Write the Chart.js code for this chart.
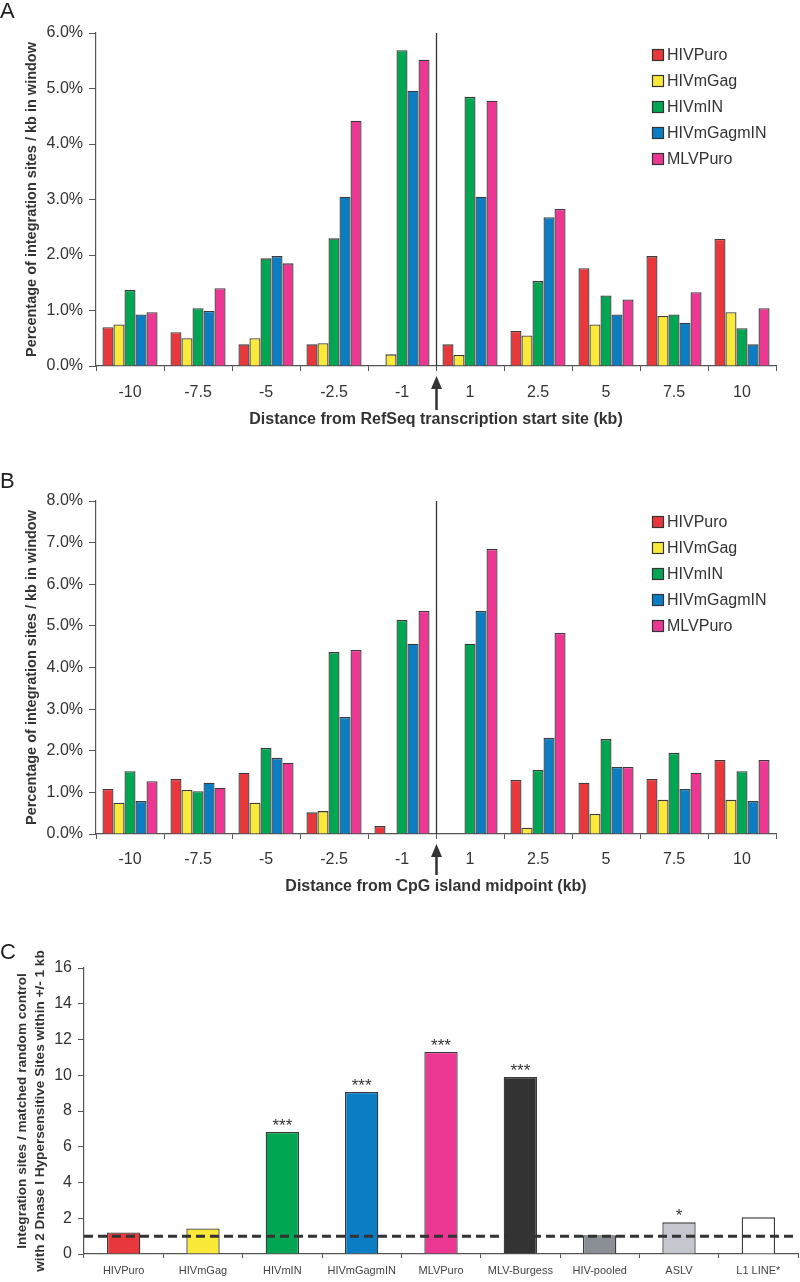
<!DOCTYPE html>
<html>
<head>
<meta charset="utf-8">
<script src="https://cdn.jsdelivr.net/npm/chart.js@4.4.1/dist/chart.umd.min.js"></script>
<style>
  body { margin: 0; background: #fff; }
  canvas { position: absolute; left: 0; }
</style>
</head>
<body>
<canvas id="panelA" width="800" height="430" style="top:0px"></canvas>
<canvas id="panelB" width="800" height="470" style="top:430px"></canvas>
<canvas id="panelC" width="800" height="382" style="top:900px"></canvas>
<script>
// categories
var distances = ['-10', '-7.5', '-5', '-2.5', '-1', '1', '2.5', '5', '7.5', '10'];
var vectors = ['HIVPuro', 'HIVmGag', 'HIVmIN', 'HIVmGagmIN', 'MLVPuro'];
var vectorColors = ['#e8383b', '#fbe93a', '#00a651', '#0b7dc5', '#ec3893'];

// panel A: % of integration sites / kb, around RefSeq TSS
var tssHIVPuro    = [0.70, 0.61, 0.39, 0.39, 0.00, 0.39, 0.63, 1.76, 1.98, 2.29];
var tssHIVmGag    = [0.75, 0.50, 0.50, 0.41, 0.21, 0.20, 0.55, 0.75, 0.90, 0.97];
var tssHIVmIN     = [1.37, 1.04, 1.94, 2.30, 5.69, 4.85, 1.53, 1.27, 0.93, 0.68];
var tssHIVmGagmIN = [0.93, 0.99, 1.98, 3.05, 4.96, 3.05, 2.68, 0.93, 0.78, 0.39];
var tssMLVPuro    = [0.97, 1.40, 1.85, 4.42, 5.52, 4.78, 2.83, 1.20, 1.33, 1.04];

// panel B: around CpG island midpoint
var cpgHIVPuro    = [1.08, 1.32, 1.47, 0.52, 0.19, 0.00, 1.30, 1.23, 1.32, 1.78];
var cpgHIVmGag    = [0.75, 1.06, 0.75, 0.55, 0.00, 0.00, 0.15, 0.48, 0.82, 0.82];
var cpgHIVmIN     = [1.51, 1.03, 2.07, 4.37, 5.14, 4.57, 1.54, 2.28, 1.95, 1.51];
var cpgHIVmGagmIN = [0.79, 1.23, 1.83, 2.81, 4.57, 5.36, 2.31, 1.61, 1.08, 0.79];
var cpgMLVPuro    = [1.27, 1.11, 1.71, 4.42, 5.36, 6.85, 4.83, 1.61, 1.47, 1.78];

// panel C: DNase I HS ratio vs random
var dnaseLabels = ['HIVPuro', 'HIVmGag', 'HIVmIN', 'HIVmGagmIN', 'MLVPuro', 'MLV-Burgess', 'HIV-pooled', 'ASLV', 'L1 LINE*'];
var dnaseRatio  = [1.20, 1.43, 6.83, 9.06, 11.30, 9.90, 1.05, 1.77, 2.05];
var dnaseStars  = ['', '', '***', '***', '***', '***', '', '*', ''];
var dnaseColors = ['#e8383b', '#fbe93a', '#00a651', '#0b7dc5', '#ec3893', '#333333', '#8a8f96', '#c4c7cd', '#ffffff'];
var randomLevel = 1;

var FONT = "'Liberation Sans', Arial, sans-serif";
var INK = '#333333';
Chart.defaults.font.family = FONT;
Chart.defaults.color = INK;

// draws panel letter, legend, divider line + arrow, stars, dashed line
var extras = {
  id: 'extras',
  afterDatasetsDraw: function(chart, args, opts) {
    var ctx = chart.ctx;
    var area = chart.chartArea;
    ctx.save();

    if (opts.dashed) {
      var yy = chart.scales.y.getPixelForValue(randomLevel);
      ctx.strokeStyle = '#333';
      ctx.lineWidth = 3;
      ctx.setLineDash([9, 5]);
      ctx.beginPath();
      ctx.moveTo(area.left, yy);
      ctx.lineTo(area.right, yy);
      ctx.stroke();
      ctx.setLineDash([]);
    }

    if (opts.stars) {
      var meta = chart.getDatasetMeta(0);
      ctx.font = '17px ' + FONT;
      ctx.fillStyle = INK;
      ctx.textAlign = 'center';
      ctx.textBaseline = 'alphabetic';
      for (var i = 0; i < meta.data.length; i++) {
        if (dnaseStars[i]) ctx.fillText(dnaseStars[i], meta.data[i].x, meta.data[i].y - 1);
      }
    }

    if (opts.divider) {
      var xs = chart.scales.x;
      var dx = Math.round((xs.getPixelForValue(4) + xs.getPixelForValue(5)) / 2) + 0.5;
      ctx.strokeStyle = '#333';
      ctx.lineWidth = 1.3;
      ctx.beginPath();
      ctx.moveTo(dx, area.top);
      ctx.lineTo(dx, area.bottom);
      ctx.stroke();
      // arrow under the axis
      ctx.lineWidth = 2.5;
      ctx.beginPath();
      ctx.moveTo(dx, area.bottom + opts.arrowTail);
      ctx.lineTo(dx, area.bottom + 20);
      ctx.stroke();
      ctx.fillStyle = '#333';
      ctx.beginPath();
      ctx.moveTo(dx, area.bottom + 10);
      ctx.lineTo(dx - 5.5, area.bottom + 23);
      ctx.lineTo(dx + 5.5, area.bottom + 23);
      ctx.closePath();
      ctx.fill();
    }

    if (opts.legend) {
      ctx.font = '16px ' + FONT;
      ctx.textAlign = 'left';
      ctx.textBaseline = 'middle';
      for (var k = 0; k < chart.data.datasets.length; k++) {
        var ds = chart.data.datasets[k];
        var cy = area.top + opts.legendTop + k * 26;
        ctx.fillStyle = ds.backgroundColor;
        ctx.fillRect(652.5, cy - 5.5, 11, 11);
        ctx.strokeStyle = '#333';
        ctx.lineWidth = 1.2;
        ctx.strokeRect(652.5, cy - 5.5, 11, 11);
        ctx.fillStyle = INK;
        ctx.fillText(ds.label, 667, cy + 1);
      }
    }

    ctx.font = '22px ' + FONT;
    ctx.fillStyle = '#222';
    ctx.textAlign = 'left';
    ctx.textBaseline = 'alphabetic';
    ctx.fillText(opts.letter, 0, opts.letterY);

    ctx.restore();
  }
};

function groupedDatasets(series) {
  var out = [];
  for (var i = 0; i < vectors.length; i++) {
    out.push({
      label: vectors[i],
      data: series[i],
      backgroundColor: vectorColors[i],
      borderColor: '#3a3a3a',
      borderWidth: 1.3,
      categoryPercentage: 0.81,
      barPercentage: 1.0
    });
  }
  return out;
}

function drawGrouped(id, series, yMax, xTitle, yTitle, padTop, xHeight, tickPad, titlePad, extraOpts) {
  var ctx = document.getElementById(id).getContext('2d');
  return new Chart(ctx, {
    type: 'bar',
    data: { labels: distances, datasets: groupedDatasets(series) },
    options: {
      responsive: false,
      animation: false,
      devicePixelRatio: 1,
      layout: { padding: { top: padTop, right: 24, bottom: 0, left: 0 } },
      plugins: { legend: { display: false }, tooltip: { enabled: false }, extras: extraOpts },
      scales: {
        x: {
          grid: { offset: true, drawOnChartArea: false, tickLength: 5, color: '#555' },
          border: { color: '#555', width: 1.2 },
          ticks: { font: { size: 16 }, padding: tickPad, color: INK, maxRotation: 0 },
          title: { display: true, text: xTitle, font: { size: 16, weight: 'bold' }, color: INK, padding: { top: 0, bottom: titlePad } },
          afterFit: function(s) { s.height = xHeight; }
        },
        y: {
          min: 0, max: yMax,
          grid: { drawOnChartArea: false, tickLength: 7, color: '#555' },
          border: { color: '#555', width: 1.2 },
          ticks: { stepSize: 1, font: { size: 16 }, padding: 6, color: INK,
            callback: function(v) { return v.toFixed(1) + '%'; } },
          title: { display: true, text: yTitle, font: { size: 14.5, weight: 'bold' }, color: INK, padding: { top: 23, bottom: 0 } },
          afterFit: function(s) { s.width = 96; }
        }
      }
    },
    plugins: [extras]
  });
}

drawGrouped('panelA',
  [tssHIVPuro, tssHIVmGag, tssHIVmIN, tssHIVmGagmIN, tssMLVPuro],
  6, 'Distance from RefSeq transcription start site (kb)',
  'Percentage of integration sites / kb in window',
  33, 64, 12, 1,
  { letter: 'A', letterY: 18, legend: true, legendTop: 22, divider: true, arrowTail: 44 });

drawGrouped('panelB',
  [cpgHIVPuro, cpgHIVmGag, cpgHIVmIN, cpgHIVmGagmIN, cpgMLVPuro],
  8, 'Distance from CpG island midpoint (kb)',
  'Percentage of integration sites / kb in window',
  71, 66, 11, 4,
  { letter: 'B', letterY: 58, legend: true, legendTop: 21, divider: true, arrowTail: 41 });

new Chart(document.getElementById('panelC').getContext('2d'), {
  type: 'bar',
  data: {
    labels: dnaseLabels,
    datasets: [{
      label: 'Integration sites / matched random control',
      data: dnaseRatio,
      backgroundColor: dnaseColors,
      borderColor: '#3a3a3a',
      borderWidth: 1.3,
      categoryPercentage: 1.0,
      barPercentage: 0.42
    }]
  },
  options: {
    responsive: false,
    animation: false,
    devicePixelRatio: 1,
    layout: { padding: { top: 68, right: 2, bottom: 0, left: 0 } },
    plugins: { legend: { display: false }, tooltip: { enabled: false },
      extras: { letter: 'C', letterY: 59, dashed: true, stars: true } },
    scales: {
      x: {
        grid: { offset: true, drawOnChartArea: false, tickLength: 4, color: '#555' },
        border: { color: '#555', width: 1.2 },
        ticks: { font: { size: 11 }, padding: 6, color: '#444', maxRotation: 0, autoSkip: false },
        afterFit: function(s) { s.height = 28; }
      },
      y: {
        min: 0, max: 16,
        grid: { drawOnChartArea: false, tickLength: 6, color: '#555' },
        border: { color: '#555', width: 1.2 },
        ticks: { stepSize: 2, font: { size: 16 }, padding: 6, color: INK },
        title: { display: true,
          text: ['Integration sites / matched random control', 'with 2 Dnase I Hypersensitive Sites within +/- 1 kb'],
          font: { size: 13.6, weight: 'bold', lineHeight: '18px' }, color: INK, padding: { top: 13, bottom: 0 } },
        afterFit: function(s) { s.width = 84; }
      }
    }
  },
  plugins: [extras]
});
</script>
</body>
</html>
